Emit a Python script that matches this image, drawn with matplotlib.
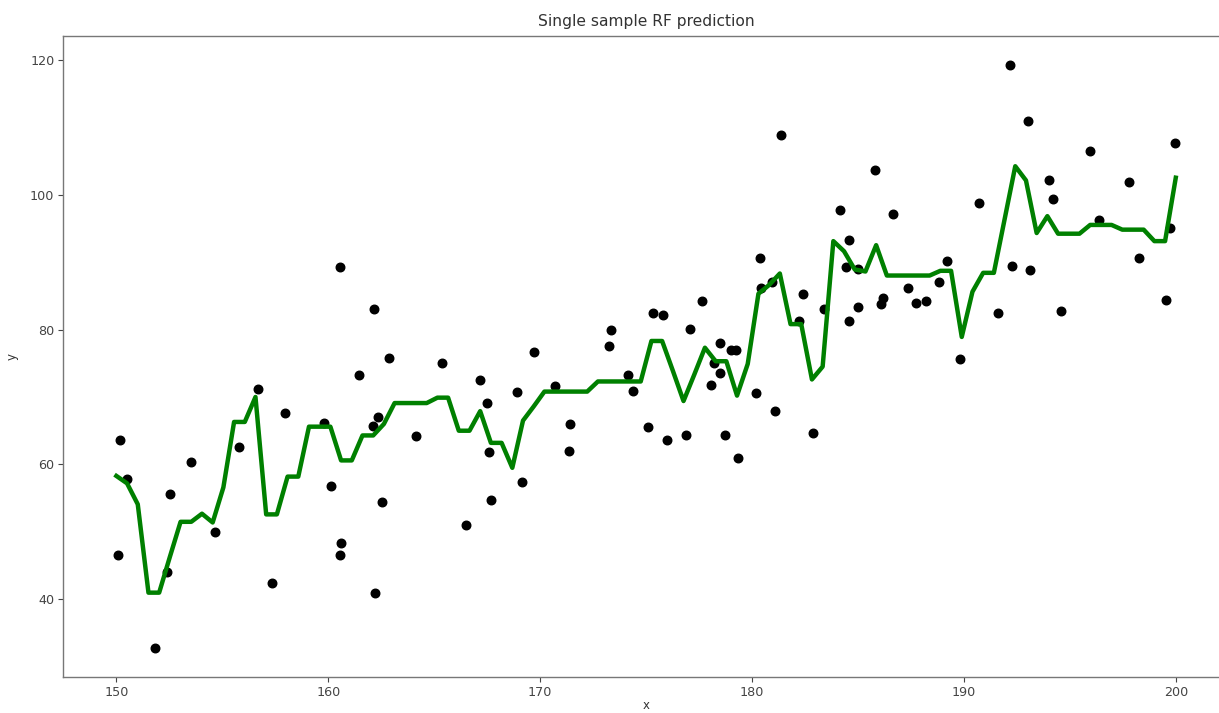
import numpy as np
import matplotlib
matplotlib.use("Agg")
import matplotlib.pyplot as plt

# Observed samples
x_obs = [150.18, 150.52, 150.08, 151.81, 152.41, 152.54, 153.51, 154.66, 155.80, 156.70,
         157.34, 157.95, 159.78, 160.13, 160.60, 160.57, 161.45, 160.55, 162.14, 162.88,
         162.33, 162.13, 162.52, 162.22, 164.14, 165.35, 167.18, 167.50, 167.60, 167.68,
         166.50, 168.90, 169.15, 169.73, 170.68, 171.43, 171.38, 173.35, 173.27, 174.14,
         174.37, 175.08, 175.32, 175.82, 175.98, 176.90, 177.05, 177.65, 178.47, 178.19,
         178.47, 178.08, 179.02, 179.23, 178.74, 179.33, 180.20, 180.36, 180.44, 180.96,
         181.07, 182.40, 182.90, 183.42, 184.42, 185.00, 185.00, 184.58, 186.07, 186.20,
         181.38, 185.79, 184.17, 186.66, 190.72, 184.56, 182.20, 187.36, 187.76, 188.19,
         188.83, 189.18, 189.80, 191.60, 192.25, 193.03, 193.10, 192.17, 195.94, 199.96,
         194.02, 194.21, 197.80, 196.39, 199.73, 198.28, 194.58, 199.52]
y_obs = [63.6, 57.8, 46.6, 32.8, 44.0, 55.6, 60.3, 50.0, 62.6, 71.2,
         42.5, 67.6, 66.2, 56.8, 48.3, 46.6, 73.3, 89.2, 83.0, 75.8,
         67.0, 65.7, 54.5, 40.9, 64.15, 75.0, 72.5, 69.05, 61.9, 54.7,
         51.0, 70.8, 57.4, 76.6, 71.7, 66.0, 62.0, 79.9, 77.5, 73.3,
         70.9, 65.6, 82.5, 82.1, 63.6, 64.4, 80.1, 84.2, 78.0, 75.0,
         73.5, 71.8, 77.0, 76.9, 64.3, 60.9, 70.6, 90.6, 86.2, 87.0,
         67.9, 85.2, 64.6, 83.0, 89.2, 89.0, 83.4, 81.3, 83.8, 84.7,
         108.9, 103.7, 97.7, 97.15, 98.7, 93.2, 81.2, 86.2, 84.0, 84.2,
         87.1, 90.2, 75.6, 82.5, 89.4, 110.9, 88.8, 119.2, 106.4, 107.6,
         102.2, 99.3, 101.8, 96.2, 95.1, 90.6, 82.8, 84.4]

# Random forest prediction evaluated on an evenly spaced grid
grid_start, grid_stop, grid_n = 150, 200, 100
y_pred = [58.3, 57.2, 54.1, 41.0, 41.0, 46.3, 51.5, 51.5, 52.7, 51.4,
          56.6, 66.3, 66.3, 70.0, 52.6, 52.6, 58.2, 58.2, 65.6, 65.6,
          65.6, 60.6, 60.6, 64.3, 64.3, 66.0, 69.1, 69.1, 69.1, 69.1,
          69.9, 69.9, 65.0, 65.0, 67.9, 63.2, 63.2, 59.5, 66.5, 68.6,
          70.8, 70.8, 70.8, 70.8, 70.8, 72.3, 72.3, 72.3, 72.3, 72.3,
          78.3, 78.3, 73.9, 69.4, 73.3, 77.3, 75.3, 75.3, 70.2, 74.9,
          85.3, 86.6, 88.3, 80.8, 80.8, 72.6, 74.5, 93.1, 91.6, 88.9,
          88.6, 92.5, 88.0, 88.0, 88.0, 88.0, 88.0, 88.7, 88.7, 78.9,
          85.6, 88.4, 88.4, 96.3, 104.2, 102.1, 94.3, 96.8, 94.2, 94.2,
          94.2, 95.5, 95.5, 95.5, 94.8, 94.8, 94.8, 93.1, 93.1, 102.5]
x_grid = np.linspace(grid_start, grid_stop, grid_n)

fig = plt.figure(figsize=(12.19, 7.13), dpi=100)
ax = fig.add_axes([0.052, 0.0505, 0.956, 0.899])

ax.scatter(x_obs, y_obs, s=38, color="black", zorder=2)
ax.plot(x_grid, y_pred, color="green", linewidth=3.2, zorder=3)

ax.set_xlim(147.5, 202.5)
ax.set_ylim(28.5, 123.5)
ax.set_xticks([150, 160, 170, 180, 190, 200])
ax.set_yticks([40, 60, 80, 100, 120])

ax.set_title("Single sample RF prediction", fontsize=11.2, color="#333333", pad=7)
ax.set_xlabel("x", fontsize=8.5, color="#333333", labelpad=0)
ax.set_ylabel("y", fontsize=8.5, color="#333333", labelpad=8)
ax.tick_params(labelsize=9.2, colors="#444444", length=3.5, width=0.8, pad=3)
for sp in ax.spines.values():
    sp.set_color("#777777")
    sp.set_linewidth(1.0)

fig.savefig("out.png", dpi=100)
